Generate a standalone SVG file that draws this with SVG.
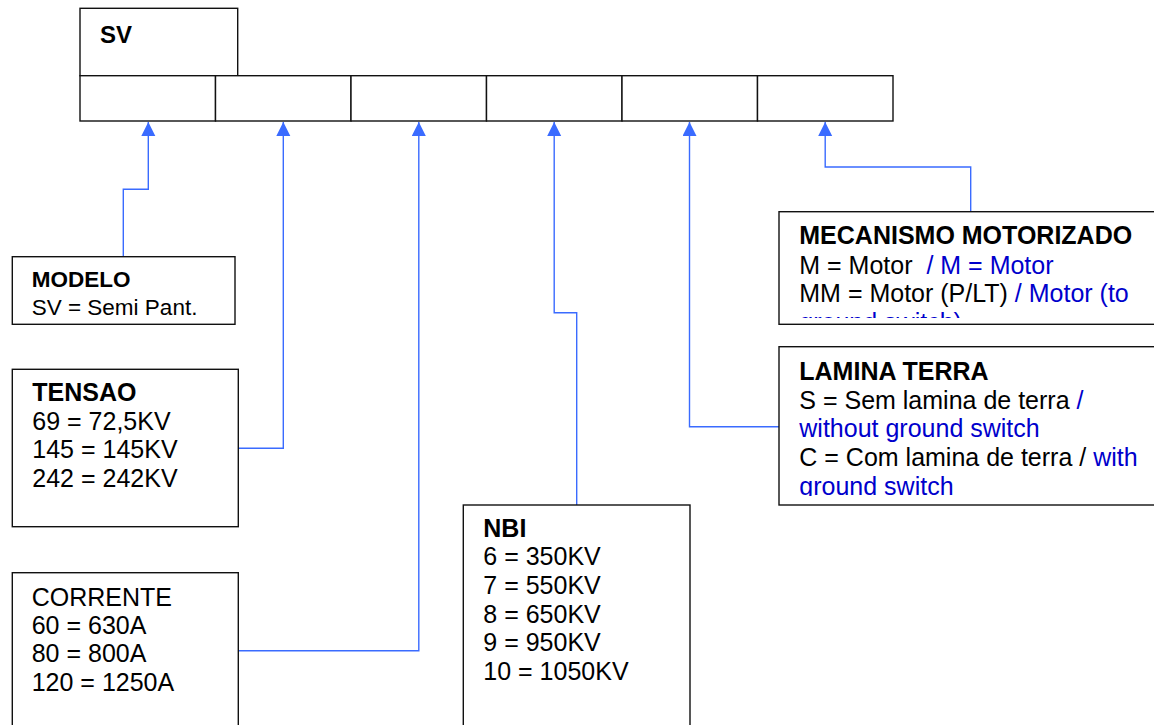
<svg xmlns="http://www.w3.org/2000/svg" width="1154" height="725" viewBox="0 0 1154 725">
<defs>
<style>
.box{fill:#fff;stroke:#111;stroke-width:1.4}
.t{font-family:"Liberation Sans",Arial,sans-serif;font-size:25px;fill:#000}
.m{font-size:22.5px}
.b{font-weight:bold}
.bl{fill:#0000cc}
.c{fill:none;stroke:#3a6bff;stroke-width:1.4;marker-end:url(#ah)}
</style>
<marker id="ah" markerUnits="userSpaceOnUse" markerWidth="15" markerHeight="15" refX="14" refY="7" orient="auto">
<path d="M0,0 L14,7 L0,14 z" fill="#3a6bff"/>
</marker>
<clipPath id="clipMec"><rect x="779" y="212" width="380" height="106"/></clipPath>
<clipPath id="clipLam"><rect x="779" y="347" width="380" height="149"/></clipPath>
</defs>

<g id="code">
<rect class="box" x="80" y="8.3" width="157.7" height="67.4"/>
<text class="t b" x="100" y="42.7" style="font-size:24px">SV</text>
<rect class="box" x="80" y="75.7" width="135.5" height="45.3"/>
<rect class="box" x="215.5" y="75.7" width="135.5" height="45.3"/>
<rect class="box" x="351" y="75.7" width="135.5" height="45.3"/>
<rect class="box" x="486.5" y="75.7" width="135.5" height="45.3"/>
<rect class="box" x="622" y="75.7" width="135.5" height="45.3"/>
<rect class="box" x="757.5" y="75.7" width="135.5" height="45.3"/>
</g>

<g id="connectors">
<path class="c" d="M123.3,256.7 V189.3 H148.3 V122"/>
<path class="c" d="M238.3,448.3 H283.3 V122"/>
<path class="c" d="M238,650.7 H418.8 V122"/>
<path class="c" d="M576.7,505 V312.7 H554.2 V122"/>
<path class="c" d="M779,426.7 H689.5 V122"/>
<path class="c" d="M970.7,211.7 V167 H825.2 V122"/>
</g>

<g id="modelo">
<rect class="box" x="12.3" y="256.7" width="222.7" height="67.6"/>
<text class="t m b" x="31.7" y="286.7">MODELO</text>
<text class="t m" x="31.7" y="315">SV = Semi Pant.</text>
</g>

<g id="tensao">
<rect class="box" x="12.3" y="369.3" width="226" height="157.4"/>
<text class="t b" x="32.3" y="400.7">TENSAO</text>
<text class="t" x="32.3" y="429.5">69 = 72,5KV</text>
<text class="t" x="32.3" y="458.3">145 = 145KV</text>
<text class="t" x="32.3" y="487.1">242 = 242KV</text>
</g>

<g id="corrente">
<rect class="box" x="12.3" y="572.7" width="226" height="160"/>
<text class="t" x="31.7" y="605.7">CORRENTE</text>
<text class="t" x="31.7" y="634">60 = 630A</text>
<text class="t" x="31.7" y="662.3">80 = 800A</text>
<text class="t" x="31.7" y="690.7">120 = 1250A</text>
</g>

<g id="nbi">
<rect class="box" x="463.3" y="505" width="226.7" height="230"/>
<text class="t b" x="483.3" y="536.7">NBI</text>
<text class="t" x="483.3" y="565.3">6 = 350KV</text>
<text class="t" x="483.3" y="593.9">7 = 550KV</text>
<text class="t" x="483.3" y="622.5">8 = 650KV</text>
<text class="t" x="483.3" y="651.1">9 = 950KV</text>
<text class="t" x="483.3" y="679.7">10 = 1050KV</text>
</g>

<g id="mecanismo">
<rect class="box" x="779" y="211.7" width="390" height="112.6"/>
<g clip-path="url(#clipMec)">
<text class="t b" x="799.3" y="244">MECANISMO MOTORIZADO</text>
<text class="t" x="799.3" y="273.5" xml:space="preserve">M = Motor  <tspan class="bl">/ M = Motor</tspan></text>
<text class="t" x="799.3" y="302">MM = Motor (P/LT) <tspan class="bl">/ Motor (to</tspan></text>
<text class="t bl" x="799.3" y="331">ground switch)</text>
</g>
</g>

<g id="lamina">
<rect class="box" x="779" y="346.7" width="390" height="158.3"/>
<g clip-path="url(#clipLam)">
<text class="t b" x="799.3" y="380">LAMINA TERRA</text>
<text class="t" x="799.3" y="408.6">S = Sem lamina de terra <tspan class="bl">/</tspan></text>
<text class="t bl" x="799.3" y="437.3">without ground switch</text>
<text class="t" x="799.3" y="466">C = Com lamina de terra / <tspan class="bl">with</tspan></text>
<text class="t bl" x="799.3" y="494.7">ground switch</text>
</g>
</g>
</svg>
